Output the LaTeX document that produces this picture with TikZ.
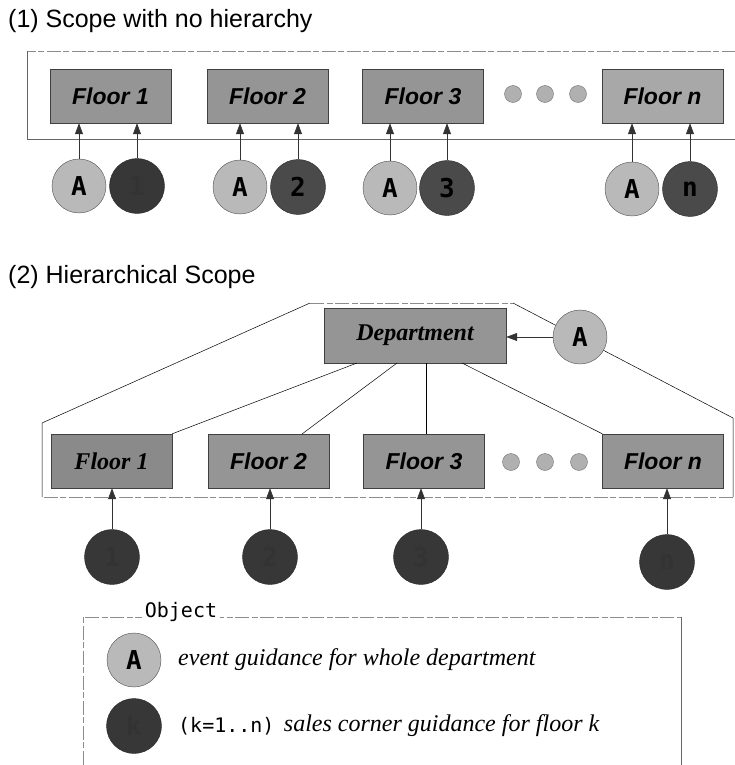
\documentclass[tikz,border=0pt]{standalone}
\usepackage{fontspec}
\setmainfont{Liberation Serif}
\setsansfont{Liberation Sans}
\newfontfamily\monofam{DejaVu Sans Mono}
\usetikzlibrary{arrows.meta}

\definecolor{boxgray}{HTML}{959595}
\definecolor{boxlight}{HTML}{A8A8A8}
\definecolor{boxdark}{HTML}{8A8A8A}
\definecolor{circlight}{HTML}{B9B9B9}
\definecolor{circdark}{HTML}{4A4A4A}
\definecolor{circdeep}{HTML}{373737}
\definecolor{dotgray}{HTML}{B0B0B0}

\tikzset{
  floorbox/.style={draw=black!75, fill=boxgray, minimum width=121pt, minimum height=54pt,
    inner sep=0pt, font=\sffamily\bfseries\itshape\fontsize{23}{23}\selectfont},
  lightcirc/.style={circle, draw=black!70, fill=circlight, minimum size=54pt, inner sep=0pt,
    font=\monofam\bfseries\fontsize{26}{26}\selectfont},
  darkcirc/.style={circle, draw=black!85, fill=circdark, minimum size=55pt, inner sep=0pt,
    font=\monofam\bfseries\fontsize{26}{26}\selectfont, text=black},
  deepcirc/.style={darkcirc, fill=circdeep, text=black!80},
  dotc/.style={circle, draw=black!55, fill=dotgray, minimum size=17pt, inner sep=0pt},
  arr/.style={draw=black!80, line width=0.6pt, -{Triangle[length=11pt,width=8pt]}},
  link/.style={draw=black, line width=0.5pt},
  frameline/.style={draw=black!60, line width=0.6pt},
  fadedline/.style={draw=black!45, line width=0.6pt, dash pattern=on 14pt off 3pt on 6pt off 2pt},
  titletext/.style={anchor=base west, inner sep=0pt, font=\sffamily\fontsize{25}{25}\selectfont},
  legendtext/.style={anchor=west, inner sep=0pt, font=\rmfamily\itshape\fontsize{24}{24}\selectfont},
  monotext/.style={inner sep=0pt, font=\monofam\fontsize{20}{20}\selectfont}
}

\begin{document}
\begin{tikzpicture}[x=1pt, y=-1pt]
\useasboundingbox (0,0) rectangle (735,765);

% ---------- (1) flat scope ----------
\node[titletext] (title1) at (8,28) {(1) Scope with no hierarchy};

\draw[fadedline] (736,51) -- (27,51);
\draw[frameline] (27,51) -- (27,139) -- (736,139);

\node[floorbox] (fa1) at (110.5,96) {Floor 1};
\node[floorbox] (fa2) at (267.5,96) {Floor 2};
\node[floorbox] (fa3) at (423,96) {Floor 3};
\node[floorbox, fill=boxlight] (fan) at (662.5,96) {Floor n};

\node[dotc] (da1) at (513,94) {};
\node[dotc] (da2) at (545,94) {};
\node[dotc] (da3) at (578,94) {};

\node[lightcirc] (ga1) at (79,186) {A};
\node[deepcirc]  (ka1) at (137,186) {1};
\node[lightcirc] (ga2) at (240,187) {A};
\node[darkcirc]  (ka2) at (298,187) {2};
\node[lightcirc] (ga3) at (390,188) {A};
\node[darkcirc]  (ka3) at (447,188) {3};
\node[lightcirc] (gan) at (632,189) {A};
\node[darkcirc]  (kan) at (690,189) {n};

\foreach \c/\f in {ga1/fa1, ka1/fa1, ga2/fa2, ka2/fa2, ga3/fa3, ka3/fa3, gan/fan, kan/fan}
  \draw[arr] (\c.north) -- (\c.north |- \f.south);

% ---------- (2) hierarchical scope ----------
\node[titletext] (title2) at (8,283) {(2) Hierarchical Scope};

\coordinate (hl) at (42,497);
\coordinate (hlt) at (42,423);
\coordinate (htl) at (310,303);
\coordinate (htr) at (513,303);
\coordinate (hrt) at (733,418);
\coordinate (hr) at (733,497);
\draw[link] (hl) -- (hlt) -- (htl);
\draw[fadedline] (htl) -- (htr);
\draw[link] (htr) -- (hrt) -- (hr);
\draw[fadedline] (hr) -- (hl);

\node[floorbox, minimum width=182pt, minimum height=55pt,
      font=\rmfamily\bfseries\itshape\fontsize{24}{24}\selectfont] (dept) at (415,335.5) {Department};
\node[lightcirc] (gtop) at (580,337) {A};
\draw[arr] (gtop.west) -- (dept.east |- gtop.west);

\node[floorbox, fill=boxdark, font=\rmfamily\bfseries\itshape\fontsize{24}{24}\selectfont] (fb1) at (111.5,461) {Floor 1};
\node[floorbox] (fb2) at (268.5,461) {Floor 2};
\node[floorbox] (fb3) at (424,461) {Floor 3};
\node[floorbox] (fbn) at (663,461) {Floor n};

\node[dotc] (db1) at (511,462) {};
\node[dotc] (db2) at (545,462) {};
\node[dotc] (db3) at (579,462) {};

% branches from the department to its floors
\coordinate (dep1) at (357,363);
\coordinate (dep2) at (397,363);
\coordinate (dep3) at (426,363);
\coordinate (depn) at (462,363);
\coordinate (fb2top) at (302,434);
\draw[link] (dep1) -- (fb1.north east);
\draw[link] (dep2) -- (fb2top);
\draw[link] (dep3) -- (dep3 |- fb3.north);
\draw[link] (depn) -- (fbn.north west);

\node[deepcirc] (kb1) at (112,557) {1};
\node[deepcirc] (kb2) at (270,557) {2};
\node[deepcirc] (kb3) at (421,557) {3};
\node[deepcirc] (kbn) at (667,562) {n};

\foreach \c/\f in {kb1/fb1, kb2/fb2, kb3/fb3, kbn/fbn}
  \draw[arr] (\c.north) -- (\c.north |- \f.south);

% ---------- legend ----------
\draw[fadedline] (83,765) -- (83,617) -- (681,617);
\draw[frameline] (681,617) -- (681,765);
\node[monotext, fill=white, inner xsep=3pt, inner ysep=1pt] (objlabel) at (181,612) {Object};

\node[lightcirc] (lega) at (134,660) {A};
\node[legendtext] (legatext) at (178,660) {event guidance for whole department};

\node[deepcirc] (legk) at (134,726) {k};
\node[monotext, anchor=west] (legkrange) at (178,726) {(k=1..n)};
\node[legendtext] (legktext) at ([xshift=9pt]legkrange.east) {sales corner guidance for floor k};
\end{tikzpicture}
\end{document}
